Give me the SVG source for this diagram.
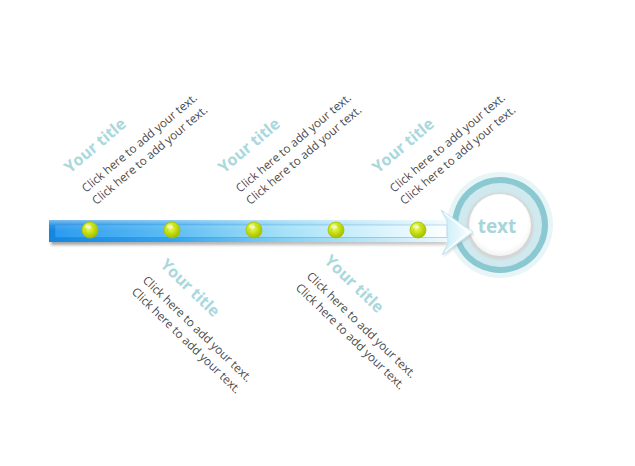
<svg xmlns="http://www.w3.org/2000/svg" width="635" height="466" viewBox="0 0 635 466">
<defs>
  <style>
    .title{font-family:"Open Sans","Noto Sans","DejaVu Sans",sans-serif;font-weight:700;font-size:16px;fill:#a9d8dd}
    .body{font-family:"Open Sans","Noto Sans","DejaVu Sans",sans-serif;font-size:11.7px;fill:#4a4a4a}
    .center{font-family:"Open Sans","Noto Sans","DejaVu Sans",sans-serif;font-weight:700;font-size:19px;fill:#a6d5da}
    .dot{fill:url(#dotG);stroke:#a9c200;stroke-width:0.8}
    .dotIn{fill:none;stroke:#b7cf10;stroke-width:0.8;opacity:0.7}
    .dotHi{fill:#ffffff;opacity:0.55}
  </style>
  <linearGradient id="barOuter" x1="49" y1="0" x2="450" y2="0" gradientUnits="userSpaceOnUse">
    <stop offset="0" stop-color="#1386e0"/>
    <stop offset="0.3" stop-color="#34a4ee"/>
    <stop offset="0.6" stop-color="#86d2f4"/>
    <stop offset="0.85" stop-color="#c6ebf9"/>
    <stop offset="1" stop-color="#eefaff"/>
  </linearGradient>
  <linearGradient id="barInner" x1="49" y1="0" x2="450" y2="0" gradientUnits="userSpaceOnUse">
    <stop offset="0" stop-color="#2a9af0"/>
    <stop offset="0.3" stop-color="#5cbcf3"/>
    <stop offset="0.6" stop-color="#a8e2f8"/>
    <stop offset="0.85" stop-color="#def5fd"/>
    <stop offset="1" stop-color="#ffffff"/>
  </linearGradient>
  <linearGradient id="gloss" x1="0" y1="0" x2="0" y2="1">
    <stop offset="0" stop-color="#ffffff" stop-opacity="0.45"/>
    <stop offset="0.5" stop-color="#ffffff" stop-opacity="0.1"/>
    <stop offset="1" stop-color="#ffffff" stop-opacity="0"/>
  </linearGradient>
  <linearGradient id="headG" x1="441" y1="0" x2="473" y2="0" gradientUnits="userSpaceOnUse">
    <stop offset="0" stop-color="#c6edf8"/>
    <stop offset="0.6" stop-color="#e6f8fc"/>
    <stop offset="1" stop-color="#ffffff"/>
  </linearGradient>
  <radialGradient id="dotG" cx="0.4" cy="0.35" r="0.7">
    <stop offset="0" stop-color="#eef98a"/>
    <stop offset="0.45" stop-color="#cde516"/>
    <stop offset="1" stop-color="#9bb600"/>
  </radialGradient>
  <radialGradient id="whiteG" cx="0.5" cy="0.45" r="0.55">
    <stop offset="0.8" stop-color="#ffffff"/>
    <stop offset="1" stop-color="#f2f2f2"/>
  </radialGradient>
  <linearGradient id="shadowG" x1="49" y1="0" x2="450" y2="0" gradientUnits="userSpaceOnUse">
    <stop offset="0" stop-color="#7a7a7a" stop-opacity="0.7"/>
    <stop offset="1" stop-color="#9a9a9a" stop-opacity="0.5"/>
  </linearGradient>
  <filter id="blur" x="-10%" y="-50%" width="120%" height="200%"><feGaussianBlur stdDeviation="1.5"/></filter>
  <filter id="blur2" x="-20%" y="-20%" width="140%" height="140%"><feGaussianBlur stdDeviation="1.2"/></filter>
</defs>

<rect width="635" height="466" fill="#ffffff"/>

<g id="end-circle">
  <circle cx="500" cy="225" r="53" fill="#e7f5f7"/>
  <circle cx="500" cy="225" r="48" fill="#8ac9d2"/>
  <circle cx="500" cy="225" r="42" fill="#cfe9ee"/>
  <circle cx="500" cy="226" r="33.5" fill="#d4d4d4" filter="url(#blur2)"/>
  <circle cx="500" cy="225" r="31" fill="url(#whiteG)"/>
  <text class="center" x="497" y="233" text-anchor="middle">text</text>
</g>

<g id="connectors">
  <rect x="51" y="223" width="396" height="22" fill="url(#shadowG)" filter="url(#blur)"/>
  <rect x="49" y="220" width="400" height="22" fill="url(#barOuter)"/>
  <rect x="55" y="225" width="392" height="12.5" fill="url(#barInner)" stroke="#1a78c8" stroke-opacity="0.3" stroke-width="1"/>
  <rect x="49" y="220" width="400" height="11" fill="url(#gloss)"/>
  <polygon points="447,220 441,210 473,232 442,255 448,243" fill="#9a9a9a" opacity="0.35" transform="translate(1,2)" filter="url(#blur2)"/>
  <polygon points="447,220 441,210 473,232 442,255 448,243" fill="url(#headG)" stroke="#bfe6f0" stroke-width="1"/>
  <polyline points="444,213 468,232 445,252" fill="none" stroke="#ffffff" stroke-width="1.5" opacity="0.9"/>
</g>

<g id="dot1"><circle class="dot" cx="90" cy="230" r="8"/><circle class="dotIn" cx="90.5" cy="230.5" r="5"/><ellipse class="dotHi" cx="88" cy="226.5" rx="3" ry="2"/></g>
<g id="dot2"><circle class="dot" cx="172" cy="230" r="8"/><circle class="dotIn" cx="172.5" cy="230.5" r="5"/><ellipse class="dotHi" cx="170" cy="226.5" rx="3" ry="2"/></g>
<g id="dot3"><circle class="dot" cx="254" cy="230" r="8"/><circle class="dotIn" cx="254.5" cy="230.5" r="5"/><ellipse class="dotHi" cx="252" cy="226.5" rx="3" ry="2"/></g>
<g id="dot4"><circle class="dot" cx="336" cy="230" r="8"/><circle class="dotIn" cx="336.5" cy="230.5" r="5"/><ellipse class="dotHi" cx="334" cy="226.5" rx="3" ry="2"/></g>
<g id="dot5"><circle class="dot" cx="418" cy="230" r="8"/><circle class="dotIn" cx="418.5" cy="230.5" r="5"/><ellipse class="dotHi" cx="416" cy="226.5" rx="3" ry="2"/></g>

<g id="label-top-1" transform="translate(86,193) rotate(-40)">
  <text class="title" x="0" y="-25">Your title</text>
  <text class="body" x="0" y="0">Click here to add your text.</text>
  <text class="body" x="0" y="16">Click here to add your text.</text>
</g>
<g id="label-top-2" transform="translate(240,193) rotate(-40)">
  <text class="title" x="0" y="-25">Your title</text>
  <text class="body" x="0" y="0">Click here to add your text.</text>
  <text class="body" x="0" y="16">Click here to add your text.</text>
</g>
<g id="label-top-3" transform="translate(394,193) rotate(-40)">
  <text class="title" x="0" y="-25">Your title</text>
  <text class="body" x="0" y="0">Click here to add your text.</text>
  <text class="body" x="0" y="16">Click here to add your text.</text>
</g>

<g id="label-bottom-1" transform="translate(142,281) rotate(44)">
  <text class="title" x="2" y="-23">Your title</text>
  <text class="body" x="0" y="0">Click here to add your text.</text>
  <text class="body" x="0" y="16">Click here to add your text.</text>
</g>
<g id="label-bottom-2" transform="translate(306,277) rotate(44)">
  <text class="title" x="2" y="-23">Your title</text>
  <text class="body" x="0" y="0">Click here to add your text.</text>
  <text class="body" x="0" y="16">Click here to add your text.</text>
</g>
</svg>
